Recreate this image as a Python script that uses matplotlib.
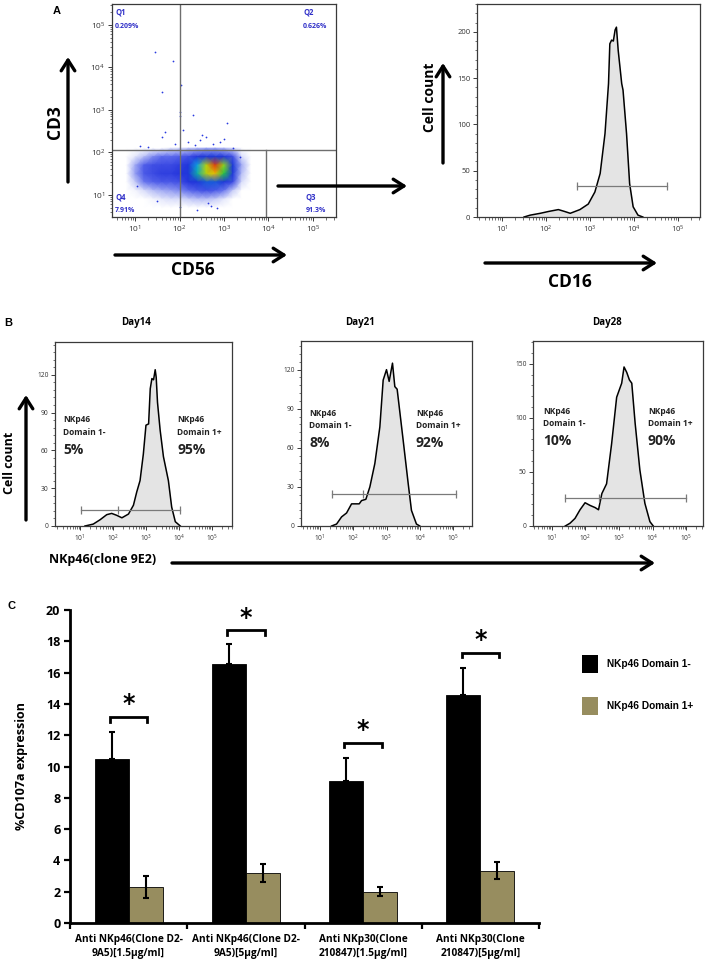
import numpy as np
import matplotlib
matplotlib.use('Agg')
import matplotlib.pyplot as plt
from matplotlib.colors import LinearSegmentedColormap
from matplotlib.ticker import FixedLocator, NullFormatter, FixedFormatter, MultipleLocator
from matplotlib.patches import FancyArrowPatch, Rectangle

# ---------------- DATA ----------------
# Panel A scatter (log10 units): density grid of the CD3/CD56 dot plot
dens_lx = [0.8, 1.0, 1.2, 1.4, 1.6, 1.8, 2.0, 2.2, 2.4, 2.6, 2.8, 3.0, 3.2, 3.4, 3.6]
dens_ly = [2.1, 1.9, 1.7, 1.5, 1.3, 1.1, 0.9, 0.7]
dens_vals = [
    [0.0, 0.0, 0.0, 0.0, 0.0, 0.2, 0.3, 0.4, 0.5, 0.6, 0.6, 0.5, 0.3, 0.0, 0.0],
    [0.0, 0.2, 0.5, 0.8, 1.0, 1.0, 1.2, 1.5, 2.2, 3.0, 3.2, 2.6, 1.5, 0.3, 0.0],
    [0.0, 0.6, 1.2, 1.5, 1.6, 1.6, 1.8, 2.5, 4.5, 7.5, 10.0, 7.0, 3.2, 0.6, 0.0],
    [0.0, 0.7, 1.3, 1.6, 1.8, 1.8, 2.0, 2.8, 5.0, 7.5, 8.5, 6.0, 3.0, 0.5, 0.0],
    [0.0, 0.4, 0.9, 1.1, 1.3, 1.3, 1.5, 2.0, 3.0, 3.8, 3.8, 3.0, 1.6, 0.3, 0.0],
    [0.0, 0.1, 0.3, 0.5, 0.6, 0.7, 0.8, 1.0, 1.3, 1.5, 1.3, 0.9, 0.4, 0.0, 0.0],
    [0.0, 0.0, 0.0, 0.1, 0.2, 0.3, 0.3, 0.4, 0.5, 0.5, 0.4, 0.2, 0.0, 0.0, 0.0],
    [0.0, 0.0, 0.0, 0.0, 0.0, 0.0, 0.0, 0.0, 0.0, 0.0, 0.0, 0.0, 0.0, 0.0, 0.0],
]
outlier_lx = [1.45, 1.85, 1.60, 2.03, 2.01, 2.01, 2.30, 3.07, 2.08, 1.67, 1.60, 1.11, 2.20, 2.45,
              2.60, 2.75, 2.90, 3.00, 2.50, 2.35, 1.90, 1.30, 3.20, 3.35, 2.70, 1.05, 1.50, 2.00,
              2.40, 2.65, 2.85]
outlier_ly = [4.36, 4.15, 3.42, 3.59, 2.95, 2.85, 2.88, 2.69, 2.52, 2.47, 2.35, 2.14, 2.25, 2.30,
              2.35, 2.20, 2.25, 2.32, 2.40, 2.18, 2.20, 2.12, 2.10, 1.90, 0.75, 1.20, 0.85, 0.72,
              0.65, 0.80, 0.70]
quad_names = ['Q1', 'Q2', 'Q3', 'Q4']
quad_pcts = ['0.209%', '0.626%', '91.3%', '7.91%']

# Panel A histogram (CD16)
a2_lx = [1.50, 1.64, 1.87, 2.06, 2.28, 2.42, 2.55, 2.77, 2.96, 3.11, 3.23, 3.34, 3.42, 3.45,
         3.49, 3.53, 3.57, 3.60, 3.64, 3.72, 3.75, 3.83, 3.90, 3.98, 4.09, 4.20]
a2_cnt = [0, 2, 4, 6, 8, 6, 4, 8, 14, 27, 47, 90, 144, 187, 191, 190, 202, 205, 180, 144, 137,
          90, 36, 11, 2, 0]
a2_gate = [2.70, 4.74, 33]

# Panel B histograms (NKp46 clone 9E2)
days = ['Day14', 'Day21', 'Day28']
b1_lx = [1.15, 1.40, 1.61, 1.81, 1.96, 2.11, 2.27, 2.47, 2.62, 2.72, 2.82, 2.92, 3.00, 3.08,
         3.13, 3.18, 3.23, 3.28, 3.31, 3.35, 3.43, 3.53, 3.68, 3.78, 3.89, 4.04]
b1_cnt = [0, 1.5, 5, 9, 10, 8.5, 6.5, 9.5, 16.5, 27, 36, 57, 80, 81, 109, 117, 116, 124, 118,
          98, 76, 55, 36, 15, 3.4, 0]
b2_lx = [1.35, 1.50, 1.65, 1.80, 1.95, 2.05, 2.18, 2.25, 2.38, 2.50, 2.65, 2.80, 2.90, 3.00,
         3.08, 3.18, 3.25, 3.32, 3.50, 3.65, 3.75, 3.90, 4.00]
b2_cnt = [0, 1.5, 7, 10, 17, 17, 17, 19.5, 20.5, 30, 48, 76, 112, 120, 111, 125, 107, 105, 66,
          33, 12, 1.5, 0]
b3_lx = [1.40, 1.54, 1.69, 1.84, 1.99, 2.14, 2.29, 2.39, 2.49, 2.63, 2.78, 2.93, 3.08, 3.15,
         3.23, 3.31, 3.38, 3.48, 3.62, 3.77, 3.92, 4.02]
b3_cnt = [0, 2.5, 7, 15, 21.5, 19, 17, 15, 30, 39, 76, 119, 132, 147, 142, 135, 132, 95, 52,
          21, 4, 0]
b_gates = [[1.03, 2.16, 4.04, 12.6], [1.37, 2.30, 5.10, 24.6], [1.40, 2.41, 4.99, 25.5]]
b_neg = ['5%', '8%', '10%']
b_pos = ['95%', '92%', '90%']

# Panel C bars
categories = ['Anti NKp46(Clone D2-\n9A5)[1.5µg/ml]', 'Anti NKp46(Clone D2-\n9A5)[5µg/ml]',
              'Anti NKp30(Clone\n210847)[1.5µg/ml]', 'Anti NKp30(Clone\n210847)[5µg/ml]']
series_names = ['NKp46 Domain 1-', 'NKp46 Domain 1+']
neg_vals = [10.5, 16.55, 9.05, 14.55]
neg_err = [1.7, 1.25, 1.5, 1.75]
pos_vals = [2.3, 3.2, 2.0, 3.35]
pos_err = [0.7, 0.57, 0.3, 0.55]
sig_heights = [13.15, 18.7, 11.5, 17.25]

# ---------------- FIGURE ----------------
W, H = 708, 967
fig = plt.figure(figsize=(W / 100, H / 100), dpi=100)
plt.rcParams['font.family'] = ['Open Sans', 'DejaVu Sans']
plt.rcParams['mathtext.default'] = 'regular'


def add_ax(l, t, r, b):
    return fig.add_axes([l / W, 1 - b / H, (r - l) / W, (b - t) / H])


def ftext(x, y, s, **kw):
    kw.setdefault('ha', 'center')
    kw.setdefault('va', 'center')
    fig.text(x / W, 1 - y / H, s, **kw)


def farrow(x0, y0, x1, y1, lw=2.4):
    a = FancyArrowPatch((x0 / W, 1 - y0 / H), (x1 / W, 1 - y1 / H), transform=fig.transFigure,
                        arrowstyle='->,head_length=0.55,head_width=0.35', mutation_scale=14,
                        lw=lw, color='black', shrinkA=0, shrinkB=0)
    fig.add_artist(a)


LOGMAJ = [10.0 ** k for k in range(1, 6)]
LOGLAB = [r'$10^{%d}$' % k for k in range(1, 6)]
LOGMIN = [m * 10.0 ** k for k in range(0, 6) for m in range(2, 10)]


def log_axis(axis):
    axis.set_major_locator(FixedLocator(LOGMAJ))
    axis.set_major_formatter(FixedFormatter(LOGLAB))
    axis.set_minor_locator(FixedLocator(LOGMIN))
    axis.set_minor_formatter(NullFormatter())


def frame(ax, lsize=4.8):
    for s in ax.spines.values():
        s.set_color('#3a3a3a')
        s.set_linewidth(0.9)
    ax.tick_params(which='both', direction='out', top=False, right=False, colors='#3a3a3a',
                   labelcolor='#333333')
    ax.tick_params(which='major', length=3.2, width=0.7, labelsize=lsize, pad=1.5)
    ax.tick_params(which='minor', length=1.8, width=0.5)


def flow_hist(ax, lx, cnt, xlo, xhi, ymax, ymaj, ymin, gate, mid=None, lsize=4.8):
    x = 10.0 ** np.array(lx)
    ax.fill_between(x, cnt, 0, color='#e4e4e4', lw=0)
    ax.plot(x, cnt, color='black', lw=1.1)
    ax.set_xscale('log')
    ax.set_xlim(10 ** xlo, 10 ** xhi)
    ax.set_ylim(0, ymax)
    log_axis(ax.xaxis)
    ax.yaxis.set_major_locator(MultipleLocator(ymaj))
    ax.yaxis.set_minor_locator(MultipleLocator(ymin))
    gx = [10 ** gate[0]] + ([10 ** mid] if mid is not None else []) + [10 ** gate[1]]
    ax.plot([gx[0], gx[-1]], [gate[2]] * 2, color='#7a7a7a', lw=0.9)
    ax.plot(gx, [gate[2]] * len(gx), ls='none', marker='|', ms=6, mew=0.9, color='#7a7a7a')
    frame(ax, lsize)


# ---- Panel A scatter ----
axs = add_ax(112, 4, 336, 217)
axs.set_xscale('log')
axs.set_yscale('log')
axs.set_xlim(10 ** 0.48, 10 ** 5.52)
axs.set_ylim(10 ** 0.48, 10 ** 5.49)
cmap = LinearSegmentedColormap.from_list('flow', [
    (0.0, '#ffffff'), (0.03, '#d5daf9'), (0.10, '#5a68ec'), (0.20, '#2535dc'),
    (0.35, '#1a3ad8'), (0.45, '#10a0e0'), (0.58, '#10c050'), (0.72, '#a0d818'),
    (0.86, '#f0b800'), (1.0, '#e03c10')])
GX, GY = np.meshgrid(10.0 ** np.array(dens_lx), 10.0 ** np.array(dens_ly))
axs.pcolormesh(GX, GY, np.array(dens_vals), shading='gouraud', cmap=cmap, vmin=0, vmax=10,
               rasterized=True)
axs.scatter(10.0 ** np.array(outlier_lx), 10.0 ** np.array(outlier_ly), s=1.6, color='#2a3ae0',
            lw=0)
gc = '#6e6e6e'
axs.axvline(100, color=gc, lw=1.0)
axs.axhline(10 ** 2.05, color=gc, lw=1.0)
axs.plot([10 ** 3.95] * 2, [10 ** 0.48, 10 ** 2.05], color=gc, lw=1.0)
log_axis(axs.xaxis)
log_axis(axs.yaxis)
frame(axs, 6)
qc = '#3030c8'
ftext(115, 12, quad_names[0], ha='left', fontsize=5.5, color=qc, fontweight='bold')
ftext(115, 27, quad_pcts[0], ha='left', fontsize=5.0, color=qc, fontweight='bold')
ftext(303, 12, quad_names[1], ha='left', fontsize=5.5, color=qc, fontweight='bold')
ftext(303, 27, quad_pcts[1], ha='left', fontsize=5.0, color=qc, fontweight='bold')
ftext(306, 197, quad_names[2], ha='left', fontsize=5.5, color=qc, fontweight='bold')
ftext(306, 210, quad_pcts[2], ha='left', fontsize=5.0, color=qc, fontweight='bold')
ftext(115, 197, quad_names[3], ha='left', fontsize=5.5, color=qc, fontweight='bold')
ftext(115, 210, quad_pcts[3], ha='left', fontsize=5.0, color=qc, fontweight='bold')

ftext(57, 11, 'A', fontsize=8, fontweight='bold', family='Liberation Sans')
ftext(55, 122, 'CD3', fontsize=12.5, fontweight='bold', rotation=90)
farrow(68, 182, 68, 57)
ftext(193, 270, 'CD56', fontsize=12.5, fontweight='bold')
farrow(115, 255, 287, 255)
farrow(278, 186, 407, 186)

# ---- Panel A histogram ----
axh = add_ax(477, 4, 700, 217)
flow_hist(axh, a2_lx, a2_cnt, 0.43, 5.5, 230, 50, 10, a2_gate, lsize=5.5)
ftext(430, 97, 'Cell count', fontsize=10, fontweight='bold', rotation=90)
farrow(443, 163, 443, 63)
ftext(570, 282, 'CD16', fontsize=12.5, fontweight='bold')
farrow(485, 263, 657, 263)

# ---- Panel B ----
ftext(8, 323, 'B', fontsize=8, fontweight='bold', family='Liberation Sans')
b_boxes = [(55, 342, 232, 526, 0.24, 5.61, 146, 30, 6),
           (301, 341, 472, 526, 0.43, 5.57, 142, 30, 6),
           (533, 341, 703, 526, 0.44, 5.50, 171, 50, 10)]
b_data = [(b1_lx, b1_cnt), (b2_lx, b2_cnt), (b3_lx, b3_cnt)]
day_x = [136, 360, 607]
lab_pos = [(63, 177, 420), (309, 416, 413), (543, 648, 411)]
for i in range(3):
    l, t, r, b, xlo, xhi, ymax, ymaj, ymin = b_boxes[i]
    ax = add_ax(l, t, r, b)
    g = b_gates[i]
    flow_hist(ax, b_data[i][0], b_data[i][1], xlo, xhi, ymax, ymaj, ymin,
              [g[0], g[2], g[3]], mid=g[1])
    ftext(day_x[i], 322, days[i], fontsize=7, fontweight='bold')
    xn, xp, yt = lab_pos[i]
    ftext(xn, yt, 'NKp46', ha='left', fontsize=6, fontweight='bold', color='#222222')
    ftext(xn, yt + 13, 'Domain 1-', ha='left', fontsize=6, fontweight='bold', color='#222222')
    ftext(xn, yt + 30, b_neg[i], ha='left', fontsize=10, fontweight='bold', color='#222222')
    ftext(xp, yt, 'NKp46', ha='left', fontsize=6, fontweight='bold', color='#222222')
    ftext(xp, yt + 13, 'Domain 1+', ha='left', fontsize=6, fontweight='bold', color='#222222')
    ftext(xp, yt + 30, b_pos[i], ha='left', fontsize=10, fontweight='bold', color='#222222')

ftext(10, 463, 'Cell count', fontsize=9, fontweight='bold', rotation=90)
farrow(26, 520, 26, 395)
ftext(103, 560, 'NKp46(clone 9E2)', fontsize=9, fontweight='bold')
farrow(172, 563, 655, 563)

# ---- Panel C ----
ftext(12, 606, 'C', fontsize=8, fontweight='bold', family='Liberation Sans')
axc = add_ax(70, 610, 539, 923)
n = len(categories)
centers = np.arange(n) + 0.5
bw = 0.29
olive = '#978d5f'
axc.bar(centers - bw / 2, neg_vals, bw, color='black', edgecolor='black', lw=0.6,
        yerr=[[0] * n, neg_err], error_kw=dict(ecolor='black', elinewidth=1.5, capsize=2.2,
                                               capthick=1.5), label=series_names[0])
axc.bar(centers + bw / 2, pos_vals, bw, color=olive, edgecolor='black', lw=0.6,
        yerr=pos_err, error_kw=dict(ecolor='black', elinewidth=1.5, capsize=2.2, capthick=1.5),
        label=series_names[1])
for c, h in zip(centers, sig_heights):
    axc.plot([c - 0.16, c - 0.16, c + 0.16, c + 0.16], [h - 0.28, h, h, h - 0.28], color='black',
             lw=2.0, solid_joinstyle='miter')
    axc.text(c, h + 0.05, '*', ha='center', va='bottom', fontsize=17, fontweight='bold',
             family='DejaVu Sans')
axc.set_xlim(0, n)
axc.set_ylim(0, 20)
axc.spines['top'].set_visible(False)
axc.spines['right'].set_visible(False)
axc.spines['left'].set_linewidth(2)
axc.spines['bottom'].set_linewidth(2)
axc.yaxis.set_major_locator(MultipleLocator(2))
axc.set_xticks(np.arange(n + 1))
axc.set_xticklabels([])
axc.set_xticks(centers, minor=True)
axc.set_xticklabels(categories, minor=True, fontsize=7.3, fontweight='bold', linespacing=1.3)
axc.tick_params(axis='x', which='minor', length=0, pad=8)
axc.tick_params(axis='both', which='major', direction='out', length=4, width=1.6)
axc.tick_params(axis='y', labelsize=9, pad=3)
for lab in axc.get_yticklabels():
    lab.set_fontweight('bold')
axc.set_ylabel('%CD107a expression', fontsize=9, fontweight='bold')
axc.yaxis.set_label_coords(-0.089, 0.5)

# legend drawn as boxes
fig.add_artist(Rectangle((582 / W, 1 - 673 / H), 16 / W, 18 / H, transform=fig.transFigure,
                         facecolor='black', edgecolor='none'))
fig.add_artist(Rectangle((582 / W, 1 - 715 / H), 16 / W, 18 / H, transform=fig.transFigure,
                         facecolor=olive, edgecolor='none'))
ftext(607, 664, series_names[0], ha='left', fontsize=7.3, fontweight='bold',
      family='Liberation Sans')
ftext(607, 706, series_names[1], ha='left', fontsize=7.3, fontweight='bold',
      family='Liberation Sans')

fig.savefig('out.png', dpi=100)
